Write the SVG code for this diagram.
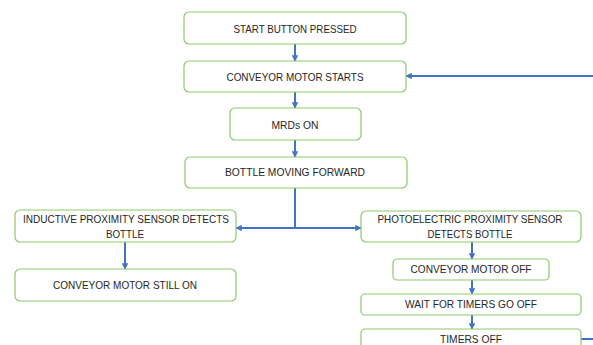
<svg xmlns="http://www.w3.org/2000/svg" width="593" height="345" viewBox="0 0 593 345">
<style>
.b{fill:#fff;stroke:#8dc96b;stroke-width:1.2}
.t{font-family:"Liberation Sans",Arial,sans-serif;font-size:11.6px;fill:#262626;text-anchor:middle}
.c{fill:none;stroke:#4472c4;stroke-width:2}
</style>
<defs>
<marker id="a" viewBox="0 0 10 10" refX="9" refY="5" markerWidth="3.2" markerHeight="3.2" orient="auto" markerUnits="strokeWidth">
<path d="M0,0 L10,5 L0,10 z" fill="#4472c4"/>
</marker>
</defs>
<rect width="593" height="345" fill="#fff"/>
<g id="connectors">
<path class="c" d="M295,44 V61" marker-end="url(#a)"/>
<path class="c" d="M593,76 H406" marker-end="url(#a)"/>
<path class="c" d="M295,92 V108" marker-end="url(#a)"/>
<path class="c" d="M295,140 V157" marker-end="url(#a)"/>
<path class="c" d="M295,188 V228 H236" marker-end="url(#a)"/>
<path class="c" d="M295,228 H361" marker-end="url(#a)"/>
<path class="c" d="M125,242 V269" marker-end="url(#a)"/>
<path class="c" d="M472,242 V259" marker-end="url(#a)"/>
<path class="c" d="M472,280 V294" marker-end="url(#a)"/>
<path class="c" d="M472,315 V329" marker-end="url(#a)"/>
<path class="c" d="M581,339 H593"/>
</g>
<g id="start"><rect class="b" x="184" y="12" width="222" height="32" rx="5"/><text class="t" x="295" y="33" textLength="123" lengthAdjust="spacingAndGlyphs">START BUTTON PRESSED</text></g>
<g id="motorStarts"><rect class="b" x="184" y="61" width="222" height="31" rx="5"/><text class="t" x="295" y="81" textLength="137" lengthAdjust="spacingAndGlyphs">CONVEYOR MOTOR STARTS</text></g>
<g id="mrds"><rect class="b" x="230" y="108" width="131" height="32" rx="5"/><text class="t" x="295" y="129" textLength="47" lengthAdjust="spacingAndGlyphs">MRDs ON</text></g>
<g id="bottle"><rect class="b" x="185" y="157" width="222" height="31" rx="5"/><text class="t" x="295" y="176" textLength="140" lengthAdjust="spacingAndGlyphs">BOTTLE MOVING FORWARD</text></g>
<g id="inductive"><rect class="b" x="15" y="210" width="221" height="32" rx="5"/><text class="t" x="126" y="223" textLength="206" lengthAdjust="spacingAndGlyphs">INDUCTIVE PROXIMITY SENSOR DETECTS</text><text class="t" x="125" y="238" textLength="38" lengthAdjust="spacingAndGlyphs">BOTTLE</text></g>
<g id="stillOn"><rect class="b" x="15" y="269" width="221" height="32" rx="5"/><text class="t" x="125" y="289" textLength="144" lengthAdjust="spacingAndGlyphs">CONVEYOR MOTOR STILL ON</text></g>
<g id="photo"><rect class="b" x="361" y="211" width="220" height="31" rx="5"/><text class="t" x="470" y="223" textLength="185" lengthAdjust="spacingAndGlyphs">PHOTOELECTRIC PROXIMITY SENSOR</text><text class="t" x="470" y="238" textLength="85" lengthAdjust="spacingAndGlyphs">DETECTS BOTTLE</text></g>
<g id="motorOff"><rect class="b" x="393" y="259" width="156" height="21" rx="4"/><text class="t" x="471" y="273" textLength="121" lengthAdjust="spacingAndGlyphs">CONVEYOR MOTOR OFF</text></g>
<g id="wait"><rect class="b" x="361" y="294" width="220" height="21" rx="4"/><text class="t" x="471" y="308" textLength="132" lengthAdjust="spacingAndGlyphs">WAIT FOR TIMERS GO OFF</text></g>
<g id="timersOff"><rect class="b" x="361" y="329" width="220" height="30" rx="4"/><text class="t" x="471" y="343" textLength="62" lengthAdjust="spacingAndGlyphs">TIMERS OFF</text></g>
</svg>
